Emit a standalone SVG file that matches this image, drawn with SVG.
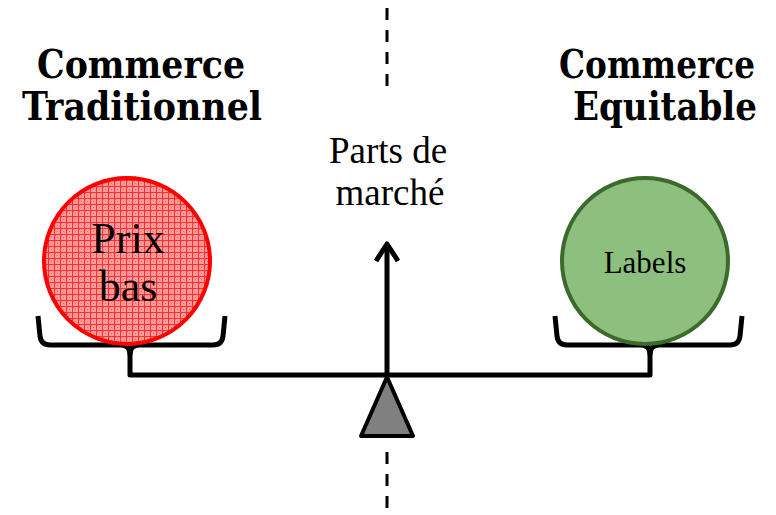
<svg xmlns="http://www.w3.org/2000/svg" width="776" height="515" viewBox="0 0 776 515">
  <style>
    .title { font-family: "DejaVu Serif Condensed", "DejaVu Serif", "Liberation Serif", serif; font-weight: bold; font-size: 39px; fill: #000; text-anchor: middle; }
    .label { font-family: "Liberation Serif", "Times New Roman", serif; fill: #000; text-anchor: middle; }
    .beam { fill: none; stroke: #000; stroke-width: 5; stroke-linecap: butt; stroke-linejoin: round; }
    .axis { fill: none; stroke: #000; stroke-width: 3; stroke-dasharray: 12 10; }
  </style>
  <defs>
    <!-- fine red grid used as the hatched fill of the left weight -->
    <pattern id="redGrid" width="6" height="6" patternUnits="userSpaceOnUse">
      <rect width="6" height="6" fill="#ff9a9a"/>
      <rect x="1" y="1" width="1" height="1" fill="#ff6a6a"/>
      <rect x="3" y="3" width="1" height="1" fill="#ff6a6a"/>
      <path d="M0 0.5 H6 M0.5 0 V6" stroke="#ff3030" stroke-width="1"/>
    </pattern>
  </defs>

  <!-- dashed centre axis -->
  <g id="axis">
    <line class="axis" x1="387" y1="8" x2="387" y2="92"/>
    <line class="axis" x1="387" y1="452" x2="387" y2="512"/>
  </g>

  <!-- side titles -->
  <g id="title-traditionnel">
    <text class="title" x="141" y="78" textLength="208" lengthAdjust="spacingAndGlyphs">Commerce</text>
    <text class="title" x="142" y="120" textLength="240" lengthAdjust="spacingAndGlyphs">Traditionnel</text>
  </g>
  <g id="title-equitable">
    <text class="title" x="657" y="78" textLength="196" lengthAdjust="spacingAndGlyphs">Commerce</text>
    <text class="title" x="665" y="120" textLength="184" lengthAdjust="spacingAndGlyphs">Equitable</text>
  </g>

  <!-- connectors: balance beam, pans, arrow -->
  <g id="connectors">
    <!-- beam with stems -->
    <path class="beam" d="M130 350 V375 H650 V350"/>
    <!-- left pan -->
    <path class="beam" d="M38 316 L40 336 Q41 345 50 345 H121 Q130 345 130 354 Q130 345 139 345 H213 Q222 345 223 336 L225 316"/>
    <!-- right pan -->
    <path class="beam" d="M555 316 L557 336 Q558 345 567 345 H641 Q650 345 650 354 Q650 345 659 345 H730 Q739 345 740 336 L742 316"/>
    <!-- market-share arrow -->
    <line class="beam" x1="387" y1="375" x2="387" y2="245"/>
    <path class="beam" d="M376 261 L387 244 L398 261" stroke-linecap="round"/>
  </g>

  <!-- fulcrum -->
  <g id="fulcrum">
    <polygon points="387,377 413,436 361,436" fill="#808080" stroke="#000" stroke-width="4" stroke-linejoin="round"/>
  </g>

  <!-- centre label -->
  <g id="parts-de-marche">
    <text class="label" x="388" y="163" font-size="37">Parts de</text>
    <text class="label" x="390" y="205" font-size="37">marché</text>
  </g>

  <!-- left weight -->
  <g id="prix-bas">
    <circle cx="127" cy="261" r="83" fill="url(#redGrid)" stroke="#ff0000" stroke-width="4"/>
    <text class="label" x="128" y="253" font-size="44">Prix</text>
    <text class="label" x="128" y="301" font-size="44">bas</text>
  </g>

  <!-- right weight -->
  <g id="labels">
    <circle cx="645" cy="261" r="83" fill="#8dc07e" stroke="#3b6a2c" stroke-width="4"/>
    <text class="label" x="645" y="273" font-size="31">Labels</text>
  </g>
</svg>
